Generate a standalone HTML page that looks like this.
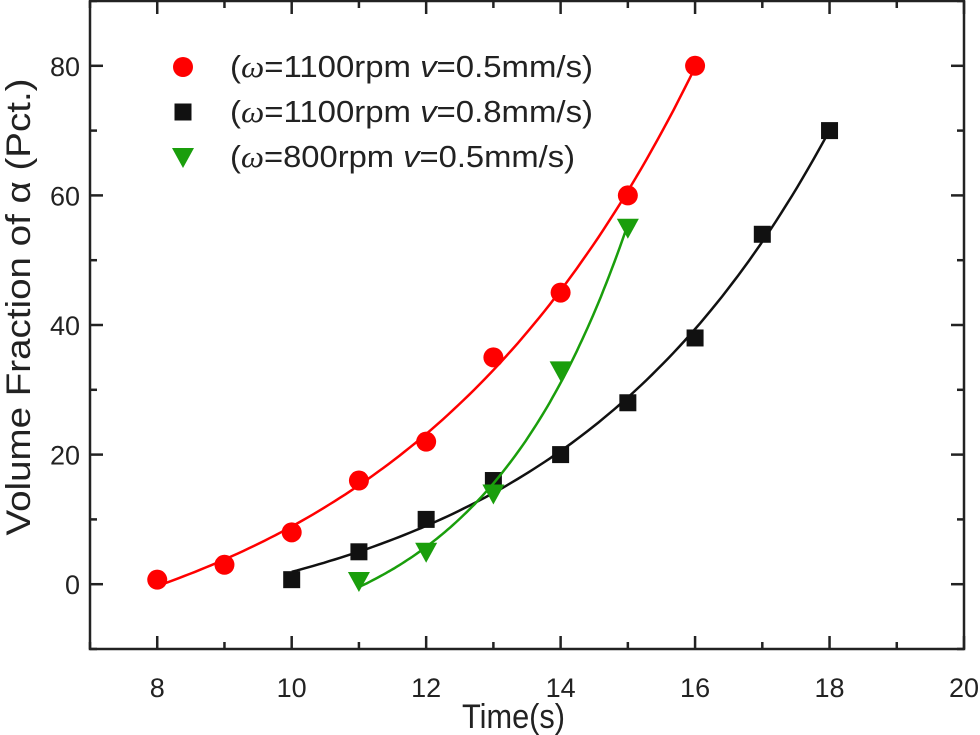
<!DOCTYPE html>
<html><head><meta charset="utf-8"><style>
body{margin:0;background:#fff}
svg{display:block;font-family:"Liberation Sans",Arial,sans-serif}
</style></head><body>
<svg id="chart" width="980" height="735"></svg>
<script>
const xTicks=[8,10,12,14,16,18,20];
const yTicks=[0,20,40,60,80];
const redX=[8,9,10,11,12,13,14,15,16];
const redY=[0.7,3,8,16,22,35,45,60,80];
const blackX=[10,11,12,13,14,15,16,17,18];
const blackY=[0.7,5,10,16,20,28,38,54,70];
const greenX=[11,12,13,14,15];
const greenY=[0.5,5,14,33,55];
const legendLabels=["1100rpm ","1100rpm ","800rpm "];
const legendV=["=0.5mm/s)","=0.8mm/s)","=0.5mm/s)"];

const L=90,R=964,T=1,B=649,X0=7,X1=20,Y0=-10,Y1=90;
const sx=v=>L+(v-X0)/(X1-X0)*(R-L);
const sy=v=>B-(v-Y0)/(Y1-Y0)*(B-T);
const svg=document.getElementById('chart');
const NS="http://www.w3.org/2000/svg";
function mk(t,a,p){const e=document.createElementNS(NS,t);for(const k in a)e.setAttribute(k,a[k]);(p||svg).appendChild(e);return e;}

const frame=mk('rect',{x:L,y:T,width:R-L,height:B-T,fill:'none',stroke:'#222','stroke-width':2.5});



for(let v=X0;v<=X1;v++){
  const major=v%2===0, len=major?13:7;
  for(const [y,d] of [[B,-1],[T,1]]){
    const t=mk('line',{x1:sx(v),x2:sx(v),y1:y,y2:y+d*len,stroke:'#222','stroke-width':2.5});
    
    
  }
}
xTicks.forEach(v=>{
  const t=mk('text',{x:sx(v),y:697,'text-anchor':'middle','font-size':27,fill:'#222'});
  t.textContent=v;
  
  
});
for(let v=Y0;v<=Y1;v+=10){
  const major=v%20===0, len=major?13:7;
  for(const [x,d] of [[L,1],[R,-1]]){
    const t=mk('line',{x1:x,x2:x+d*len,y1:sy(v),y2:sy(v),stroke:'#222','stroke-width':2.5});
    
    
  }
}
yTicks.forEach(v=>{
  const t=mk('text',{x:L-10,y:sy(v)+10,'text-anchor':'end','font-size':27,fill:'#222'});
  t.textContent=v;
  
  
});
const xt=mk('text',{x:462,y:728,'font-size':34,fill:'#222',textLength:103,lengthAdjust:'spacingAndGlyphs'});
xt.textContent='Time(s)';


const yt=mk('text',{x:0,y:0,'text-anchor':'middle','font-size':34,fill:'#222',textLength:457,lengthAdjust:'spacingAndGlyphs',transform:'translate(30,307) rotate(-90)'});
yt.textContent='Volume Fraction of \u03B1 (Pct.)';



function fit(xs,ys){
  let best=null;
  for(let c=0.05;c<1.5;c+=0.002){
    const e=xs.map(x=>Math.exp(c*(x-xs[0])));
    const n=xs.length,me=e.reduce((a,b)=>a+b)/n,my=ys.reduce((a,b)=>a+b)/n;
    let sxy=0,sxx=0;for(let i=0;i<n;i++){sxy+=(e[i]-me)*(ys[i]-my);sxx+=(e[i]-me)**2;}
    const b=sxy/sxx,a=my-b*me;
    let err=0;for(let i=0;i<n;i++)err+=(a+b*e[i]-ys[i])**2;
    if(!best||err<best.err)best={a,b,c,err};
  }
  return x=>best.a+best.b*Math.exp(best.c*(x-xs[0]));
}
function series(xs,ys,color,shape,name){
  const f=fit(xs,ys);let d='';
  for(let i=0;i<=100;i++){const x=xs[0]+(xs[xs.length-1]-xs[0])*i/100;d+=(i?'L':'M')+sx(x).toFixed(1)+','+sy(f(x)).toFixed(1);}
  const p=mk('path',{d,fill:'none',stroke:color,'stroke-width':2.5});
  
  
  xs.forEach((x,i)=>{const m=marker(sx(x),sy(ys[i]),shape,color);
    
    });
}
function marker(x,y,shape,color){
  if(shape==='c')return mk('circle',{cx:x,cy:y,r:10,fill:color});
  if(shape==='s')return mk('rect',{x:x-8.5,y:y-8.5,width:17,height:17,fill:color});
  return mk('path',{d:`M${x-11},${y-9}L${x+11},${y-9}L${x},${y+11}Z`,fill:color});
}
series(redX,redY,'#f00','c','red-series');
series(blackX,blackY,'#111','s','black-series');
series(greenX,greenY,'#1a9e0c','t','green-series');

const lc=['#f00','#111','#1a9e0c'],ls=['c','s','t'],ly=[67,112,157],lw=[363,363,345];
ly.forEach((y,i)=>{
  const m=marker(183,y,ls[i],lc[i]);
  
  
  const t=mk('text',{x:230,y:y+10,'font-size':31,fill:'#222',textLength:lw[i],lengthAdjust:'spacingAndGlyphs'});
  t.innerHTML='(<tspan font-family="Liberation Serif" font-style="italic">\u03C9</tspan>='+legendLabels[i]+'<tspan font-style="italic">v</tspan>'+legendV[i];
  
  
});
</script>
</body></html>
